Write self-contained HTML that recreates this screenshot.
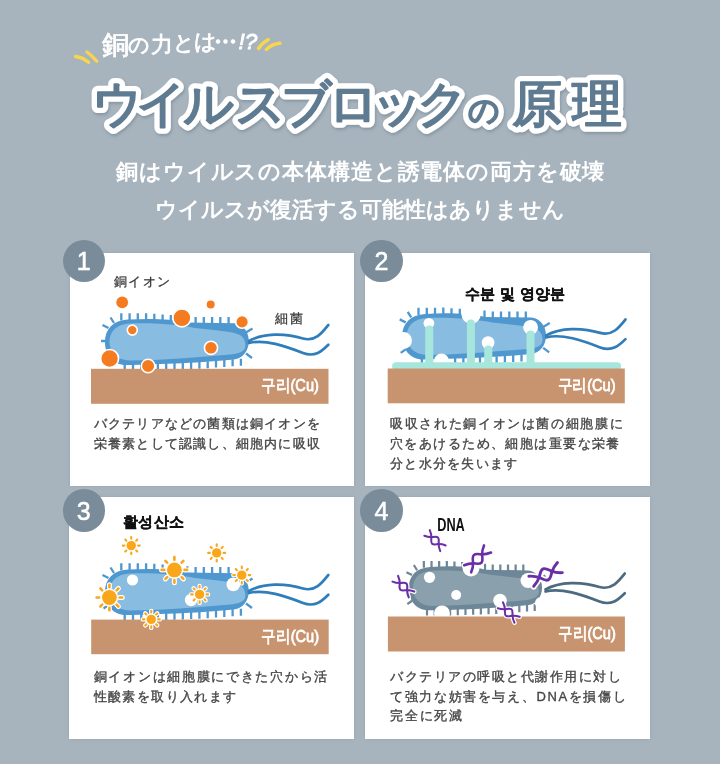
<!DOCTYPE html>
<html lang="ja">
<head>
<meta charset="utf-8">
<style>
html,body{margin:0;padding:0;}
body{width:720px;height:764px;overflow:hidden;background:#a7b4be;position:relative;font-family:"Liberation Sans",sans-serif;}
svg{position:absolute;left:0;top:0;font-family:"Liberation Sans",sans-serif;will-change:transform;}
.card{position:absolute;background:#fff;box-shadow:0 0 3px rgba(120,135,148,0.35);}
.num{position:absolute;width:42.5px;height:42.5px;border-radius:50%;background:#7a8c9a;}
.tx{font-size:13px;letter-spacing:1.2px;fill:#454545;stroke:#454545;stroke-width:0.35px;}
.ko{font-size:17px;fill:#fff;stroke:#fff;stroke-width:0.8px;}
.bl{font-size:15px;font-weight:bold;fill:#111;stroke:#111;stroke-width:0.3px;}
</style>
</head>
<body>

<!-- cards -->
<div class="card" style="left:70px;top:253px;width:284px;height:233px"></div>
<div class="card" style="left:365px;top:253px;width:285px;height:233px"></div>
<div class="card" style="left:69px;top:497px;width:285px;height:242px"></div>
<div class="card" style="left:365px;top:497px;width:285px;height:242px"></div>

<svg width="720" height="764" viewBox="0 0 720 764">
  <defs>
    <filter id="sh" x="-10%" y="-30%" width="120%" height="160%">
      <feDropShadow dx="1" dy="2" stdDeviation="1.4" flood-color="#4a6070" flood-opacity="0.35"/>
    </filter>
    <!-- generic bacterium body (card 1 coordinates) -->
    <g id="spikes">
      <path d="M121.3,320.5 v-7.2 M129.6,320.5 v-7.2 M137.8,320.5 v-7.2 M146.1,320.4 v-7.2 M154.3,321.0 v-7.2 M162.6,321.6 v-7.2 M170.8,322.2 v-7.2 M179.1,322.8 v-7.2 M187.3,323.4 v-7.2 M195.6,324.2 v-7.2 M203.8,324.2 v-7.2 M212.1,324.2 v-7.2 M220.3,324.2 v-7.2 M228.6,324.2 v-7.2"/>
      <path d="M124.7,363.5 v7 M133.0,363.5 v7 M141.3,363.5 v7 M149.6,363.5 v7 M157.9,363.2 v7 M166.2,362.9 v7 M174.5,362.7 v7 M182.8,362.4 v7 M191.1,362.1 v7 M199.4,361.8 v7 M207.7,361.2 v7 M216.0,360.6 v7 M224.3,360.0 v7 M232.6,359.3 v7 M240.9,358.7 v7"/>
      <path d="M114,323 l-3.5,-5.5 M108.5,328 l-6,-3 M106.5,341 l-5.5,0 M108.5,355 l-5,3.5 M246,332.5 l6.5,-4 M246,353.5 l6,4.5"/>
    </g>
    <path id="outer" d="M105,342 C105,329 113,320.3 128,319.5 C150,318.3 172,318.8 188,322.5 L234,323.2 C243,323.8 249,332 248.8,341.5 C248.6,351 243,358 234,359.5 C205,362.5 160,364.5 126,365 C113,365 105,355 105,342 Z"/>
    <path id="inner" d="M109.5,342 C109.5,331 117,324 130,323.5 C155,322.8 175,324.5 195,328 C215,330.5 232,331 240,335 C245,338 246,344 245,348 C243,352 238,354 230,354.5 C200,357 160,360.5 130,360.5 C117,360.5 109.5,352 109.5,342 Z"/>
    <g id="flag" fill="none" stroke-width="2.7" stroke-linecap="round">
      <path d="M249,341 C263,333 285,333 303,338.5 C315,342 322,333 328.3,325"/>
      <path d="M249,343 C265,339 285,346 303,353 C315,357.5 322,351 328.3,344.7"/>
    </g>
    <circle id="sSc" r="4.7"/>
    <path id="sSr" d="M0,-6.9v-1.6 M0,6.9v1.6 M-6.9,0h-1.6 M6.9,0h1.6 M4.9,-4.9l1.1,-1.1 M-4.9,-4.9l-1.1,-1.1 M4.9,4.9l1.1,1.1 M-4.9,4.9l-1.1,1.1"/>
    <circle id="sLc" r="7.4"/>
    <path id="sLr" d="M0,-10.2v-2.6 M0,10.2v2.6 M-10.2,0h-2.6 M10.2,0h2.6 M7.2,-7.2l1.8,-1.8 M-7.2,-7.2l-1.8,-1.8 M7.2,7.2l1.8,1.8 M-7.2,7.2l-1.8,1.8"/>
    <g id="dnaw" fill="none" stroke="#fff" stroke-width="5.2" stroke-linecap="round">
      <path d="M-13,-4.6 C-9,-3 -7,-1.2 -5.5,0.4 C-3.5,2.8 -2.2,5 0,5 C2.2,5 3.5,2.8 5.5,0.4 C7,-1.2 9,-3 13,-4.6"/>
      <path d="M-13,4.6 C-9,3 -7,1.2 -5.5,-0.4 C-3.5,-2.8 -2.2,-5 0,-5 C2.2,-5 3.5,-2.8 5.5,-0.4 C7,1.2 9,3 13,4.6"/>
    </g>
    <g id="dna" fill="none" stroke="#6a2fa6" stroke-width="2.4" stroke-linecap="round">
      <path d="M-13,-4.6 C-9,-3 -7,-1.2 -5.5,0.4 C-3.5,2.8 -2.2,5 0,5 C2.2,5 3.5,2.8 5.5,0.4 C7,-1.2 9,-3 13,-4.6"/>
      <path d="M-13,4.6 C-9,3 -7,1.2 -5.5,-0.4 C-3.5,-2.8 -2.2,-5 0,-5 C2.2,-5 3.5,-2.8 5.5,-0.4 C7,1.2 9,3 13,4.6"/>
    </g>
  </defs>

  <!-- accent marks -->
  <g stroke="#f8d54c" stroke-width="3.4" stroke-linecap="round" fill="none">
    <path d="M75.5,56.5 Q83,57.5 88.5,62.3"/>
    <path d="M87,52 Q92.5,56 96.8,61.3"/>
    <path d="M258.5,48.5 Q262,43 268.3,39.5"/>
    <path d="M266.3,49.5 Q272,44 280,43.3"/>
  </g>

  <!-- header small text -->
  <g fill="#fff" stroke="#fff" stroke-width="0.8" stroke-linejoin="round">
    <text x="102" y="53.6" font-size="26.5">銅</text>
    <text x="128.4" y="52.2" font-size="20.5">の</text>
    <text x="151.1" y="52.4" font-size="22">力</text>
    <text x="173.4" y="49.5" font-size="21">と</text>
    <text x="194" y="49.2" font-size="22">は</text>
    <circle cx="218" cy="41.5" r="1.9"/><circle cx="225.5" cy="41.5" r="1.9"/><circle cx="233" cy="41.5" r="1.9"/>
    <text x="238.6" y="48.8" font-size="22.5" font-style="italic">!?</text>
  </g>

  <!-- title -->
  <g font-size="50" stroke-linejoin="round" stroke-linecap="round">
    <g fill="#fff" stroke="#fff" stroke-width="12.6" filter="url(#sh)">
      <text x="91.5 135.55 183 235.05 280.65 327.9 372.15 417.15" y="121">ウイルスブロック</text>
      <text x="467.6" y="121" font-size="31">の</text>
      <text x="512.15 571.5" y="121">原理</text>
    </g>
    <g fill="#5f7b91" stroke="#5f7b91" stroke-width="2.0">
      <text x="91.5 135.55 183 235.05 280.65 327.9 372.15 417.15" y="121">ウイルスブロック</text>
      <text x="467.6" y="121" font-size="31">の</text>
      <text x="512.15 571.5" y="121">原理</text>
    </g>
  </g>

  <!-- subtitle -->
  <g fill="#fff" font-size="22" font-weight="bold">
    <text x="116.1" y="179.2" letter-spacing="0.87">銅はウイルスの本体構造と誘電体の両方を破壊</text>
    <text x="155.2" y="216.9" letter-spacing="0.02">ウイルスが復活する可能性はありません</text>
  </g>

  <!-- ===== CARD 1 ===== -->
  <use href="#spikes" stroke="#4f97cf" stroke-width="2.3"/>
  <use href="#outer" fill="#4f97cf"/>
  <use href="#inner" fill="#88bce1"/>
  <use href="#flag" stroke="#2f7ebb"/>
  <rect x="91" y="368.8" width="237.5" height="35" fill="#c8946f"/>
  <g fill="#f47b20" stroke="#fff" stroke-width="1.6">
    <circle cx="122.2" cy="302.3" r="5.9" stroke="none"/>
    <circle cx="210.7" cy="304.6" r="4" stroke="none"/>
    <circle cx="181.9" cy="317.9" r="9"/>
    <circle cx="242.1" cy="321.9" r="6.4"/>
    <circle cx="132.3" cy="330.1" r="5"/>
    <circle cx="211" cy="347.8" r="6.6"/>
    <circle cx="109.6" cy="358.5" r="9"/>
    <circle cx="148.1" cy="366" r="6.8"/>
  </g>

  <!-- ===== CARD 2 ===== -->
  <g transform="translate(297.2,-5.6)">
    <use href="#spikes" stroke="#4f97cf" stroke-width="2.3"/>
    <use href="#outer" fill="#4f97cf"/>
    <use href="#inner" fill="#88bce1"/>
    <use href="#flag" stroke="#2f7ebb"/>
  </g>
  <g fill="#fff">
    <circle cx="471.1" cy="314.2" r="9.7"/>
    <circle cx="403.5" cy="340.5" r="8.5"/>
    <circle cx="441.5" cy="361" r="7.5"/>
    <circle cx="542" cy="357" r="6.5"/>
    <circle cx="428.9" cy="323.3" r="5.4"/>
    <circle cx="488.1" cy="342.6" r="6.4"/>
    <circle cx="530.6" cy="327.3" r="7.4"/>
  </g>
  <g fill="#a6e6dc">
    <rect x="392.1" y="362.3" width="229" height="8" rx="4"/>
    <rect x="425.2" y="325.5" width="8.1" height="42" rx="4"/>
    <rect x="466.9" y="319.6" width="8" height="48" rx="4"/>
    <rect x="484.2" y="345.5" width="8.1" height="22" rx="4"/>
    <rect x="526.5" y="330.5" width="8" height="37" rx="4"/>
  </g>
  <rect x="387.7" y="368.5" width="237.1" height="34.8" fill="#c8946f"/>

  <!-- ===== CARD 3 ===== -->
  <g transform="translate(0,250)">
    <use href="#spikes" stroke="#4f97cf" stroke-width="2.3"/>
    <use href="#outer" fill="#4f97cf"/>
    <use href="#inner" fill="#88bce1"/>
    <use href="#flag" stroke="#2f7ebb"/>
  </g>
  <g fill="#fff">
    <circle cx="132.5" cy="580" r="5.6"/>
    <circle cx="233.3" cy="584.4" r="6.8"/>
    <circle cx="191.1" cy="600" r="6.2"/>
  </g>
  <rect x="91.2" y="619.6" width="237.5" height="34.6" fill="#c8946f"/>
  <g>
<use href="#sSc" x="131.25" y="545.6" fill="#fff" stroke="#fff" stroke-width="3"/><use href="#sSr" x="131.25" y="545.6" stroke="#fff" stroke-width="4.4" stroke-linecap="round"/>
<use href="#sSc" x="216.7" y="552.9" fill="#fff" stroke="#fff" stroke-width="3"/><use href="#sSr" x="216.7" y="552.9" stroke="#fff" stroke-width="4.4" stroke-linecap="round"/>
<use href="#sLc" x="174.4" y="569.9" fill="#fff" stroke="#fff" stroke-width="3"/><use href="#sLr" x="174.4" y="569.9" stroke="#fff" stroke-width="5" stroke-linecap="round"/>
<use href="#sSc" x="241.8" y="575.1" fill="#fff" stroke="#fff" stroke-width="3"/><use href="#sSr" x="241.8" y="575.1" stroke="#fff" stroke-width="4.4" stroke-linecap="round"/>
<use href="#sLc" x="109.4" y="597.5" fill="#fff" stroke="#fff" stroke-width="3"/><use href="#sLr" x="109.4" y="597.5" stroke="#fff" stroke-width="5" stroke-linecap="round"/>
<use href="#sSc" x="199.6" y="594.4" fill="#fff" stroke="#fff" stroke-width="3"/><use href="#sSr" x="199.6" y="594.4" stroke="#fff" stroke-width="4.4" stroke-linecap="round"/>
<use href="#sSc" x="151.25" y="619.4" fill="#fff" stroke="#fff" stroke-width="3"/><use href="#sSr" x="151.25" y="619.4" stroke="#fff" stroke-width="4.4" stroke-linecap="round"/>
<use href="#sSc" x="131.25" y="545.6" fill="#f9a61a"/><use href="#sSr" x="131.25" y="545.6" stroke="#f9a61a" stroke-width="2.1" stroke-linecap="round"/>
<use href="#sSc" x="216.7" y="552.9" fill="#f9a61a"/><use href="#sSr" x="216.7" y="552.9" stroke="#f9a61a" stroke-width="2.1" stroke-linecap="round"/>
<use href="#sLc" x="174.4" y="569.9" fill="#f9a61a"/><use href="#sLr" x="174.4" y="569.9" stroke="#f9a61a" stroke-width="2.6" stroke-linecap="round"/>
<use href="#sSc" x="241.8" y="575.1" fill="#f9a61a"/><use href="#sSr" x="241.8" y="575.1" stroke="#f9a61a" stroke-width="2.1" stroke-linecap="round"/>
<use href="#sLc" x="109.4" y="597.5" fill="#f9a61a"/><use href="#sLr" x="109.4" y="597.5" stroke="#f9a61a" stroke-width="2.6" stroke-linecap="round"/>
<use href="#sSc" x="199.6" y="594.4" fill="#f9a61a"/><use href="#sSr" x="199.6" y="594.4" stroke="#f9a61a" stroke-width="2.1" stroke-linecap="round"/>
<use href="#sSc" x="151.25" y="619.4" fill="#f9a61a"/><use href="#sSr" x="151.25" y="619.4" stroke="#f9a61a" stroke-width="2.1" stroke-linecap="round"/>
  </g>

  <!-- ===== CARD 4 ===== -->
  <g transform="translate(311.4,262.43) scale(0.927,0.953)">
    <use href="#spikes" stroke="#6d8698" stroke-width="2.4"/>
    <use href="#outer" fill="#6d8698"/>
    <use href="#inner" fill="#8ba0ad"/>
  </g>
  <use href="#flag" stroke="#4d6b80" transform="translate(296.5,248.5)"/>
  <g fill="#fff">
    <circle cx="429.5" cy="577.3" r="5.6"/>
    <circle cx="456.2" cy="595" r="5"/>
    <circle cx="442" cy="613.5" r="8"/>
    <circle cx="471" cy="568" r="8.5"/>
    <circle cx="528" cy="580.5" r="7.5"/>
    <circle cx="500" cy="600.5" r="6.8"/>
    <circle cx="541" cy="603" r="6"/>
  </g>
  <rect x="387.9" y="616.5" width="237" height="35" fill="#c8946f"/>
  <g id="dnas">
    <use href="#dnaw" transform="translate(435,540.6) rotate(44) scale(0.85)"/>
    <use href="#dnaw" transform="translate(477.6,558.9) rotate(-45) scale(1.08)"/>
    <use href="#dnaw" transform="translate(403.4,586.6) rotate(44) scale(0.87)"/>
    <use href="#dnaw" transform="translate(545.6,574.4) rotate(-25.6) scale(1.22)"/>
    <use href="#dnaw" transform="translate(508.7,612.5) rotate(41) scale(0.85)"/>
    <use href="#dna" transform="translate(435,540.6) rotate(44) scale(0.85)"/>
    <use href="#dna" transform="translate(477.6,558.9) rotate(-45) scale(1.08)"/>
    <use href="#dna" transform="translate(403.4,586.6) rotate(44) scale(0.87)"/>
    <use href="#dna" transform="translate(545.6,574.4) rotate(-25.6) scale(1.22)"/>
    <use href="#dna" transform="translate(508.7,612.5) rotate(41) scale(0.85)"/>
  </g>

  <!-- labels -->
  <g font-size="13" fill="#3a3a3a" stroke="#3a3a3a" stroke-width="0.25" letter-spacing="1">
    <text x="113.5" y="286" letter-spacing="1.5">銅イオン</text>
    <text x="274.5" y="322.5" letter-spacing="2.8">細菌</text>
  </g>
  <text class="bl" x="464.6" y="298.5" letter-spacing="0.35">수분 및 영양분</text>
  <text class="bl" x="122.8" y="527" letter-spacing="0.4">활성산소</text>
  <text x="437.2" y="531.2" font-size="19" font-weight="bold" fill="#111" transform="translate(437.2,0) scale(0.67,1) translate(-437.2,0)">DNA</text>

  <g class="ko">
    <text x="261" y="391.5" transform="translate(261,0) scale(0.86,1) translate(-261,0)">구리(Cu)</text>
    <text x="557.7" y="391.2" transform="translate(557.7,0) scale(0.86,1) translate(-557.7,0)">구리(Cu)</text>
    <text x="261.2" y="642.3" transform="translate(261.2,0) scale(0.86,1) translate(-261.2,0)">구리(Cu)</text>
    <text x="557.9" y="639.2" transform="translate(557.9,0) scale(0.86,1) translate(-557.9,0)">구리(Cu)</text>
  </g>

  <!-- body texts -->
  <g class="tx">
    <text x="93.8" y="428.1">バクテリアなどの菌類は銅イオンを</text>
    <text x="93.8" y="447.9">栄養素として認識し、細胞内に吸収</text>
    <text x="390" y="428.1" letter-spacing="1.65">吸収された銅イオンは菌の細胞膜に</text>
    <text x="390" y="447.9" letter-spacing="1.43">穴をあけるため、細胞は重要な栄養</text>
    <text x="390" y="467.7" letter-spacing="1.3">分と水分を失います</text>
    <text x="93.8" y="680.8" letter-spacing="1.7">銅イオンは細胞膜にできた穴から活</text>
    <text x="93.8" y="700.6" letter-spacing="1.35">性酸素を取り入れます</text>
    <text x="390" y="680.8" letter-spacing="1.51">バクテリアの呼吸と代謝作用に対し</text>
    <text x="390" y="700.6" letter-spacing="1.64">て強力な妨害を与え、DNAを損傷し</text>
    <text x="390" y="720.4" letter-spacing="1.8">完全に死滅</text>
  </g>
</svg>

<!-- number circles -->
<div class="num" style="left:62.5px;top:239.5px"></div>
<div class="num" style="left:360.2px;top:239.5px"></div>
<div class="num" style="left:62.5px;top:489.2px"></div>
<div class="num" style="left:360.2px;top:489.2px"></div>
<svg width="720" height="764" viewBox="0 0 720 764" style="pointer-events:none">
  <g fill="#fff" stroke="#fff" stroke-width="0.5" font-size="25" text-anchor="middle">
    <text x="83.7" y="269.8">1</text>
    <text x="381.4" y="269.8">2</text>
    <text x="83.7" y="519.5">3</text>
    <text x="381.4" y="519.5">4</text>
  </g>
</svg>

</body>
</html>
